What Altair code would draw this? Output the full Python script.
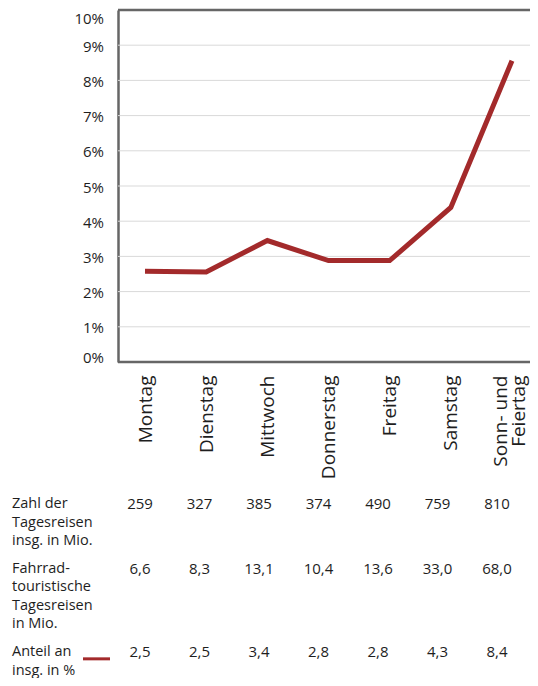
import altair as alt
import pandas as pd

# ---- data ----
tage = ["Montag", "Dienstag", "Mittwoch", "Donnerstag", "Freitag", "Samstag", "Sonn- und Feiertag"]
anteil_linie = [2.58, 2.56, 3.45, 2.88, 2.88, 4.39, 8.56]
zahl_tagesreisen = ["259", "327", "385", "374", "490", "759", "810"]
fahrrad_tagesreisen = ["6,6", "8,3", "13,1", "10,4", "13,6", "33,0", "68,0"]
anteil_tabelle = ["2,5", "2,5", "3,4", "2,8", "2,8", "4,3", "8,4"]
zeilen_titel = [
    ["Zahl der", "Tagesreisen", "insg. in Mio."],
    ["Fahrrad-", "touristische", "Tagesreisen", "in Mio."],
    ["Anteil an", "insg. in %"],
]
y_ticks = list(range(0, 11))
rahmen = [0, 10]

# ---- style ----
RED = "#a32a2b"
AX = "#666666"
GRID = "#d9d9d9"
TXT = "#1e1e1e"
FONT = "Open Sans"
W, H = 412, 352
LINE = 18.5

# ---- table layout (line index of each text line) ----
gap = 0.5
starts = []
s = 0.0
for lines in zeilen_titel:
    starts.append(s)
    s += len(lines) + gap

titel_rows = []
for st, lines in zip(starts, zeilen_titel):
    for i, t in enumerate(lines):
        titel_rows.append({"zeile": st + i, "text": t})
titel_df = pd.DataFrame(titel_rows)

werte_rows = []
for st, vals in zip(starts, [zahl_tagesreisen, fahrrad_tagesreisen, anteil_tabelle]):
    for tag, v in zip(tage, vals):
        werte_rows.append({"tag": tag, "zeile": st, "text": v})
werte_df = pd.DataFrame(werte_rows)

swatch_df = pd.DataFrame({"zeile": [starts[2] + 0.37]})
line_df = pd.DataFrame({"tag": tage, "anteil": anteil_linie})
rahmen_df = pd.DataFrame({"anteil": rahmen})
tick_df = pd.DataFrame({"anteil": y_ticks, "label": [f"{t}%" for t in y_ticks]})

label_expr = "datum.value === 'Sonn- und Feiertag' ? ['Sonn- und', 'Feiertag'] : datum.value"

x_axis = alt.Axis(
    title=None, labelAngle=270, labelAlign="right", labelBaseline="middle",
    labelPadding=13, ticks=False, domain=False,
    labelFont=FONT, labelFontSize=19, labelColor=TXT, labelLineHeight=18,
    labelExpr=label_expr, grid=False, labelOverlap=False,
    labelOffset=alt.condition("datum.value === 'Sonn- und Feiertag'", alt.value(-12), alt.value(0)),
)
y_scale = alt.Scale(domain=[0, 10], nice=False)
y_axis = alt.Axis(
    title=None, labels=False, ticks=False, grid=False,
    domainColor=AX, domainWidth=2.5,
)
Y = alt.Y("anteil:Q", scale=y_scale, axis=y_axis)

grid = alt.Chart(tick_df).transform_filter(
    "datum.anteil > 0 && datum.anteil < 10"
).mark_rule(color=GRID, strokeWidth=1).encode(y=Y)

rahmen_rules = alt.Chart(rahmen_df).mark_rule(color=AX, strokeWidth=2.5).encode(y=Y)

def y_labels(test, baseline, dy):
    return alt.Chart(tick_df).transform_filter(test).mark_text(
        font=FONT, fontSize=15, color=TXT, align="right", baseline=baseline, dy=dy
    ).encode(x=alt.value(-14), y=Y, text="label:N")

lab_mid = y_labels("datum.anteil > 0 && datum.anteil < 10", "middle", 1.5)
lab_bot = y_labels("datum.anteil == 0", "bottom", 4)
lab_top = y_labels("datum.anteil == 10", "top", 2)

line = alt.Chart(line_df).mark_line(
    color=RED, strokeWidth=5, strokeCap="butt", strokeJoin="miter"
).encode(
    x=alt.X("tag:N", sort=tage,
            scale=alt.Scale(type="point", range=[27, 394], padding=0),
            axis=x_axis),
    y=Y,
)

plot = alt.layer(grid, rahmen_rules, lab_mid, lab_bot, lab_top, line)

ty_scale = alt.Scale(domain=[0, 10], range=[494, 494 + 10 * LINE], nice=False, zero=False)
tx_scale = alt.Scale(type="point", domain=tage, range=[22, 379], padding=0)

werte = alt.Chart(werte_df).mark_text(
    font=FONT, fontSize=15, color=TXT, align="center", baseline="middle"
).encode(
    x=alt.X("tag:N", scale=tx_scale, axis=None),
    y=alt.Y("zeile:Q", scale=ty_scale, axis=None),
    text="text:N",
)

titel = alt.Chart(titel_df).mark_text(
    font=FONT, fontSize=14.5, color=TXT, align="left", baseline="middle"
).encode(
    x=alt.value(-106),
    y=alt.Y("zeile:Q", scale=ty_scale, axis=None),
    text="text:N",
)

swatch = alt.Chart(swatch_df).mark_rule(color=RED, strokeWidth=3).encode(
    x=alt.value(-35), x2=alt.value(-8),
    y=alt.Y("zeile:Q", scale=ty_scale, axis=None),
)

chart = alt.layer(plot, werte, titel, swatch).resolve_scale(
    x="independent", y="independent"
).properties(
    width=W, height=H,
    autosize=alt.AutoSizeParams(type="none"),
    padding={"left": 110, "top": 2, "right": 0, "bottom": 316},
).configure_view(stroke=None)

chart.save("out.html", embed_options={"renderer": "svg", "actions": False})
